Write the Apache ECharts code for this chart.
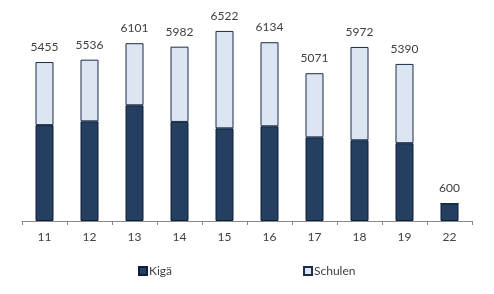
<!DOCTYPE html>
<html><head><meta charset="utf-8">
<script src="https://cdn.jsdelivr.net/npm/echarts@6/dist/echarts.min.js"></script>
<style>html,body{margin:0;padding:0;background:#fff}#c{width:494px;height:294px}</style>
</head><body><div id="c"></div>
<script>
const categories = ['11','12','13','14','15','16','17','18','19','22'];
const totals = [5455,5536,6101,5982,6522,6134,5071,5972,5390,600];
const kiga = [3290,3420,3970,3400,3180,3250,2870,2770,2670,600];
const schulen = [2165,2116,2131,2582,3342,2884,2201,3202,2720,0];

const chart = echarts.init(document.getElementById('c'));
const font = 'Lato, "Open Sans", sans-serif';
chart.setOption({
  animation:false,
  grid:{left:22,right:22,top:17,bottom:73},
  legend:{left:133,top:260,itemWidth:8,itemHeight:8,itemGap:131,icon:'rect',
    textStyle:{fontFamily:font,fontSize:12,color:'#404040',padding:[0,0,0,-3]},
    data:['Kigä','Schulen']},
  xAxis:{type:'category',data:categories,
    axisLine:{lineStyle:{color:'#868686',width:1}},
    axisTick:{show:true,length:4,lineStyle:{color:'#868686'}},
    axisLabel:{fontFamily:font,fontSize:12,color:'#404040',margin:10}},
  yAxis:{type:'value',min:0,max:7000,show:false,splitLine:{show:false}},
  series:[
    {name:'Kigä',type:'bar',stack:'a',data:kiga,barWidth:18,
     itemStyle:{color:'#243F60',borderColor:'#0F1E3A',borderWidth:1}},
    {name:'Schulen',type:'bar',stack:'a',data:schulen,barWidth:18,
     itemStyle:{color:'#DCE6F2',borderColor:'#1B2B4B',borderWidth:1},
     label:{show:true,position:'top',distance:9,fontFamily:font,fontSize:12,color:'#404040',
       formatter:p=>String(totals[p.dataIndex])}}
  ]
});
</script></body></html>
